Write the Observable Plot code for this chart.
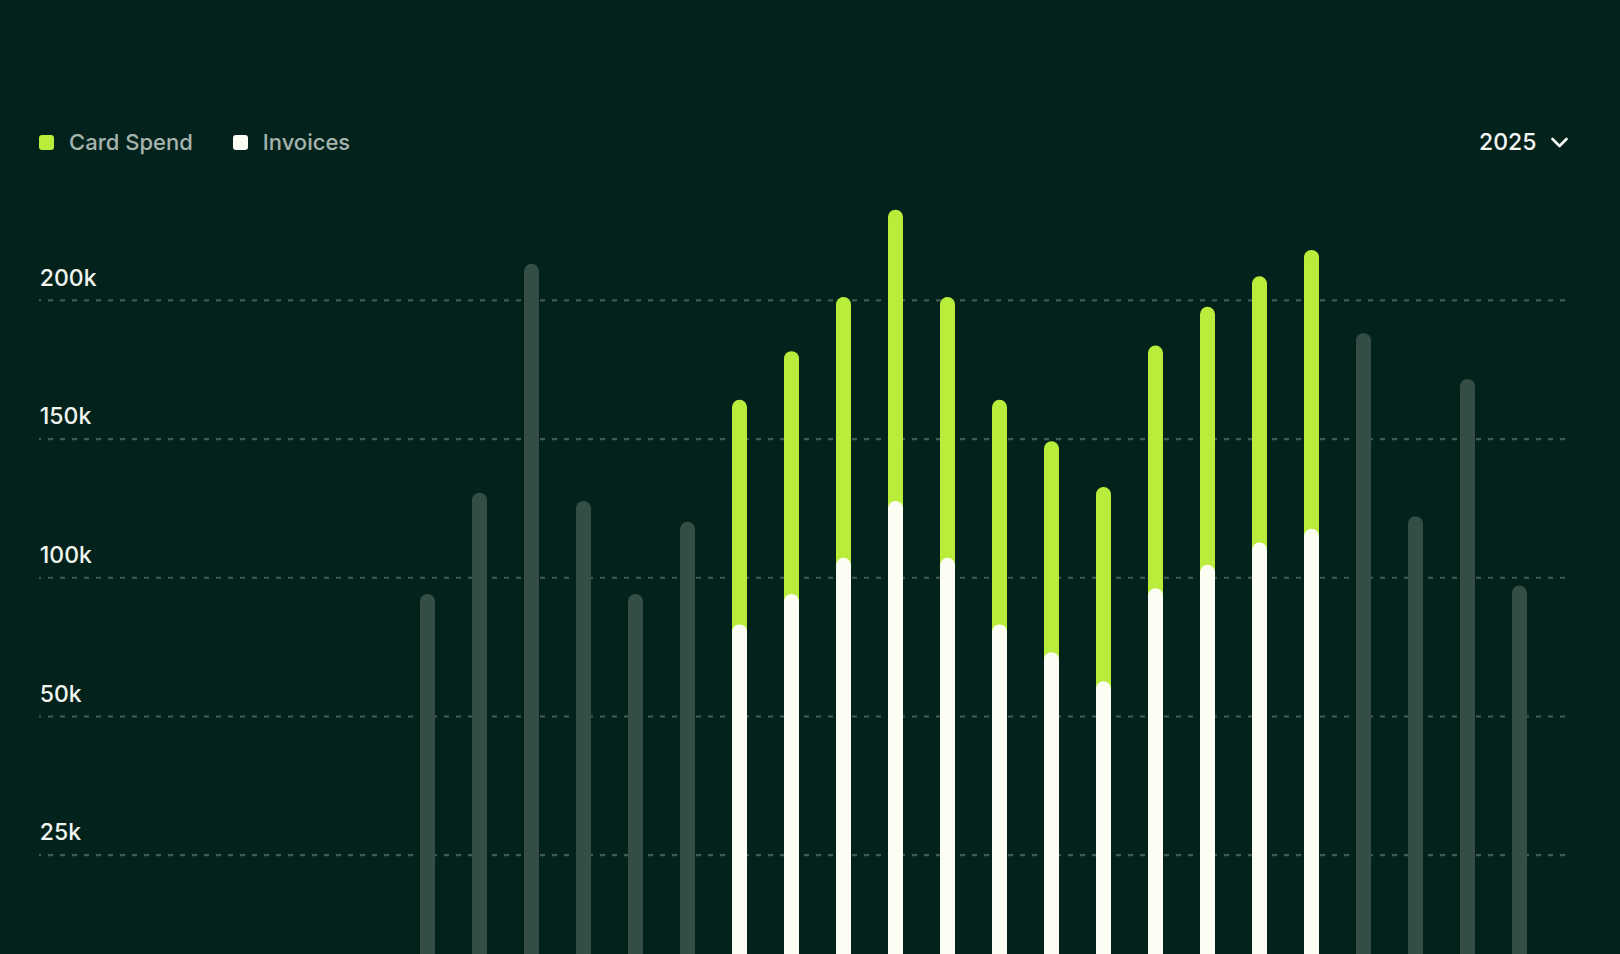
<!DOCTYPE html>
<html>
<head>
<meta charset="utf-8">
<script src="https://cdn.jsdelivr.net/npm/d3@7"></script>
<script src="https://cdn.jsdelivr.net/npm/@observablehq/plot@0.6"></script>
<style>
  html, body { margin: 0; padding: 0; width: 1620px; height: 954px; overflow: hidden; background: #04221c; }
  body { font-family: Inter, "Noto Sans", sans-serif; }
  #wrap { position: relative; width: 1620px; height: 954px; overflow: hidden; }
  #header { position: relative; height: 175px; }
  .legend { position: absolute; left: 39px; top: 126px; height: 32px; display: flex; align-items: center; }
  .item { display: flex; align-items: center; color: #a6b4ae; font-size: 22px; font-weight: 500; line-height: 1; margin-right: 40px; }
  .sw { width: 15px; height: 15px; border-radius: 3px; margin-right: 15px; }
  .year { position: absolute; left: 1479px; top: 126px; height: 32px; display: flex; align-items: center; color: #f4f7f2; font-size: 23px; font-weight: 500; line-height: 1; }
  .year svg { margin-left: 15px; }
  #chart svg { display: block; }
</style>
</head>
<body>
<div id="wrap">
  <div id="header">
    <div class="legend" id="legend"></div>
    <div class="year"><span id="yearLabel"></span>
      <svg width="17" height="11" viewBox="0 0 17 11"><polyline points="1.5,2 8.5,9 15.5,2" fill="none" stroke="#f4f7f2" stroke-width="2.6" stroke-linecap="round" stroke-linejoin="round"/></svg>
    </div>
  </div>
  <div id="chart"></div>
</div>
<script>
// ---- data ----
const periods = [
  "Dec 2023",
  "Jan 2024","Feb 2024","Mar 2024","Apr 2024","May 2024","Jun 2024",
  "Jul 2024","Aug 2024","Sep 2024","Oct 2024","Nov 2024","Dec 2024",
  "Jan 2025","Feb 2025","Mar 2025","Apr 2025","May 2025","Jun 2025",
  "Jul 2025","Aug 2025","Sep 2025","Oct 2025","Nov 2025","Dec 2025",
  "Jan 2026","Feb 2026","Mar 2026","Apr 2026"
];
const otherPeriods = ["Jul 2024","Aug 2024","Sep 2024","Oct 2024","Nov 2024","Dec 2024",
                      "Jan 2026","Feb 2026","Mar 2026","Apr 2026"];
const otherTotals  = [94, 130.5, 213, 127.5, 94, 120, 188, 122, 171.5, 97];

const months2025 = ["Jan 2025","Feb 2025","Mar 2025","Apr 2025","May 2025","Jun 2025",
                    "Jul 2025","Aug 2025","Sep 2025","Oct 2025","Nov 2025","Dec 2025"];
const invoices   = [83, 94, 107, 127.5, 107, 83, 73, 62.5, 96, 104.5, 112.5, 117.5];
const cardSpend  = [81, 87.5, 94, 105, 94, 81, 76, 70, 87.5, 93, 96, 100.5];

const yTickValues = [25, 50, 100, 150, 200];
const yTickLabels = ["25k", "50k", "100k", "150k", "200k"];

const seriesNames = ["Card Spend", "Invoices"];
const seriesColors = ["#b9ec3b", "#fcfef3"];
const otherColor = "#344e45";
const selectedYear = "2025";

// ---- tables ----
const otherData = otherPeriods.map((p, i) => ({period: p, total: otherTotals[i]}));
const monthData = months2025.map((p, i) => ({period: p, invoices: invoices[i], card: cardSpend[i]}));

// gridlines are evenly spaced although their labels are not: map values onto gridline levels
const level = d3.scaleLinear().domain([0, ...yTickValues, 250]).range([0, 1, 2, 3, 4, 5, 6]);
const tickLevels = yTickValues.map(level);
const labelOf = new Map(tickLevels.map((l, i) => [l, yTickLabels[i]]));

// ---- header ----
const legend = document.getElementById("legend");
seriesNames.forEach((name, i) => {
  const it = document.createElement("div");
  it.className = "item";
  it.innerHTML = `<span class="sw" style="background:${seriesColors[i]}"></span><span>${name}</span>`;
  legend.appendChild(it);
});
document.getElementById("yearLabel").textContent = selectedYear;

// ---- chart ----
const rx = 7.4;
const chart = Plot.plot({
  width: 1620,
  height: 830,
  marginLeft: 39,
  marginRight: 51,
  marginTop: 0,
  marginBottom: 11.6,
  x: {type: "band", domain: periods, range: [34.6, 1548.7], paddingInner: 0.717, paddingOuter: 0.3585, align: 0.5, axis: null},
  y: {domain: [0, 5.9], axis: null},
  style: {background: "transparent", overflow: "visible", fontFamily: "Inter, 'Noto Sans', sans-serif", color: "#f1f5f0"},
  marks: [
    Plot.gridY(tickLevels, {stroke: "#3e5b54", strokeOpacity: 1, strokeWidth: 2.2, strokeDasharray: "5,7", strokeDashoffset: 3}),
    Plot.barY(otherData, {x: "period", y1: 0, y2: d => level(d.total), fill: otherColor, rx}),
    Plot.barY(monthData, {x: "period", y1: 0, y2: d => level(d.invoices + d.card), fill: seriesColors[0], rx}),
    Plot.barY(monthData, {x: "period", y1: 0, y2: d => level(d.invoices), fill: seriesColors[1], rx}),
    Plot.axisY(tickLevels, {
      anchor: "left", tickSize: 0, tickPadding: 0, textAnchor: "start",
      tickFormat: d => labelOf.get(d), fill: "#f1f5f0", fontSize: 23, fontWeight: 500, fontVariant: "normal",
      dx: 0.3, dy: -22.2
    })
  ]
});
document.getElementById("chart").appendChild(chart);
</script>
</body>
</html>
